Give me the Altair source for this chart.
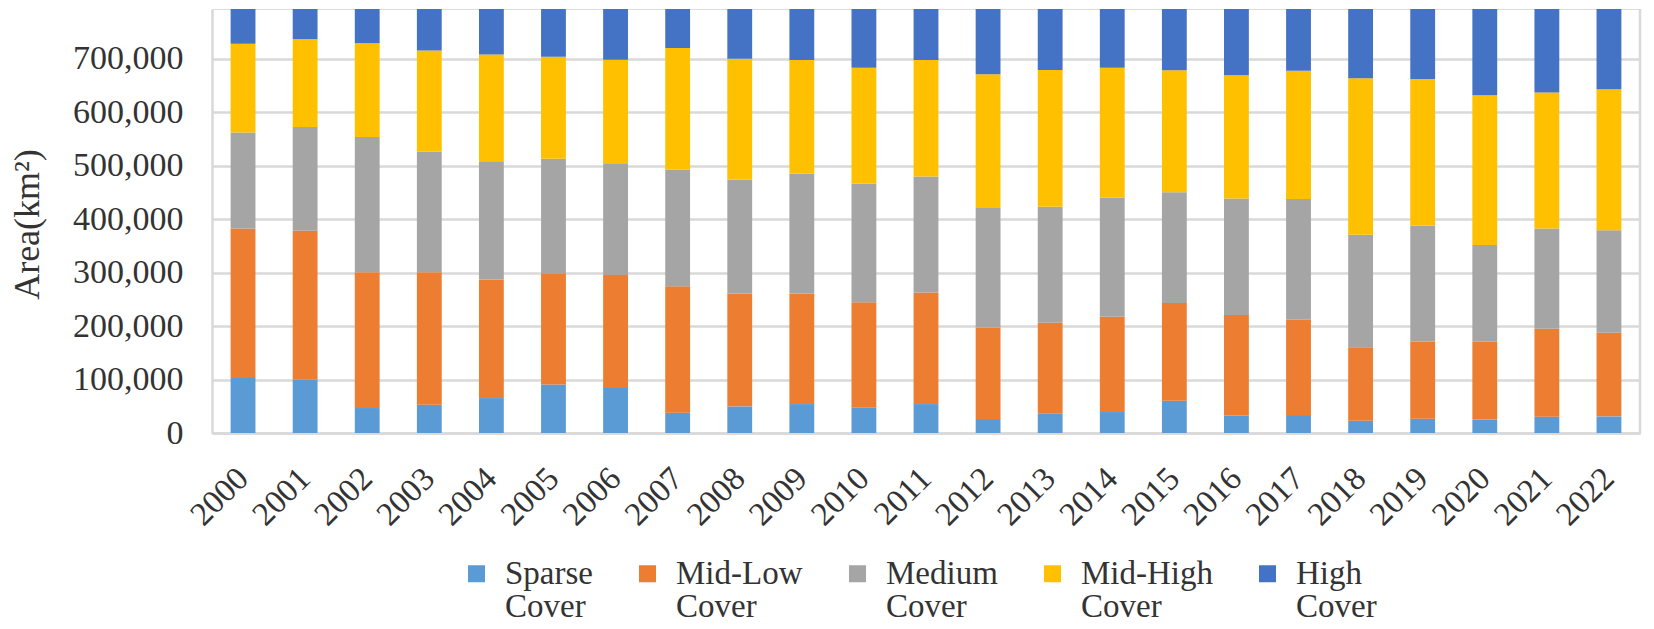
import altair as alt
import pandas as pd

years = [str(y) for y in range(2000, 2023)]
categories = ["Sparse Cover", "Mid-Low Cover", "Medium Cover", "Mid-High Cover", "High Cover"]

sparse   = [102700, 99600, 46700, 52900, 65300, 90900, 84000, 38000, 49800, 54100, 47900, 54100,
            26100, 36700, 39200, 60400, 33000, 33600, 23000, 26800, 25500, 30500, 31100]
mid_low  = [280000, 278700, 253900, 247700, 221600, 207800, 211600, 236400, 210900, 206600, 196700, 208500,
            171200, 169300, 178000, 182900, 187900, 178000, 137500, 143700, 145000, 164300, 156200]
medium   = [179200, 194200, 253200, 225200, 221500, 214100, 209100, 218400, 212900, 224700, 221500, 217200,
            223400, 217100, 223400, 207200, 217800, 225900, 210400, 217800, 181100, 187900, 191700]
mid_high = [166100, 164300, 175500, 189800, 199700, 191000, 193500, 227200, 226500, 212200, 217200, 217800,
            250100, 255800, 242700, 227800, 230200, 240200, 292400, 273800, 280000, 253900, 263800]
high     = [65000, 56200, 63700, 77400, 84900, 89200, 94800, 73000, 92900, 95400, 109700, 95400,
            122200, 114100, 109700, 114700, 124100, 115300, 129700, 130900, 161400, 156400, 150200]

y_ticks = [0, 100000, 200000, 300000, 400000, 500000, 600000, 700000]
colors = ["#5B9BD5", "#ED7D31", "#A5A5A5", "#FFC000", "#4472C4"]

series = [sparse, mid_low, medium, mid_high, high]
rows = []
for i, (cat, vals) in enumerate(zip(categories, series)):
    for yr, v in zip(years, vals):
        rows.append({"Year": yr, "Class": cat, "idx": i, "Area": v})
df = pd.DataFrame(rows)

FONT = "Liberation Serif"
TXT = "#333333"
GRID = "#d9d9d9"
W, H = 1428, 424

bars = alt.Chart(df).mark_bar().encode(
    x=alt.X("Year:N", sort=years,
            scale=alt.Scale(paddingInner=0.6, paddingOuter=0.3),
            axis=alt.Axis(title=None, labelAngle=-45, labelAlign="right", labelBaseline="middle",
                          labelFont=FONT, labelFontSize=33, labelColor=TXT, labelPadding=40,
                          ticks=False, domainColor=GRID, domainWidth=2.5)),
    y=alt.Y("Area:Q", stack="zero",
            scale=alt.Scale(domain=[0, 793000], nice=False),
            axis=alt.Axis(values=y_ticks, format=",d", title="Area(km²)",
                          labelFont=FONT, labelFontSize=34, labelColor=TXT, labelPadding=29,
                          titleFont=FONT, titleFontSize=36, titleFontWeight="normal", titleColor=TXT,
                          titleX=-185, titleY=215, titleAlign="center", titleBaseline="middle",
                          ticks=False, grid=True, gridColor=GRID, gridWidth=2.5,
                          domainColor=GRID, domainWidth=2.5)),
    color=alt.Color("Class:N",
                    scale=alt.Scale(domain=categories, range=colors),
                    legend=alt.Legend(title=None, orient="none", legendX=248, legendY=548,
                                      direction="horizontal", symbolType="square", symbolSize=289,
                                      symbolStrokeWidth=0, labelFont=FONT, labelFontSize=33,
                                      labelColor=TXT, labelOffset=12, columnPadding=38,
                                      labelLimit=0, labelExpr="split(datum.label, ' ')")),
    order=alt.Order("idx:Q", sort="ascending"),
)

right_line = alt.Chart(pd.DataFrame({"a": [0]})).mark_rule(color=GRID, strokeWidth=2.5).encode(
    x=alt.value(W), y=alt.value(0), y2=alt.value(H)
)

chart = alt.layer(bars, right_line).properties(
    width=W, height=H,
    padding={"left": 204, "top": 1, "right": 6, "bottom": 196},
    autosize=alt.AutoSizeParams(type="none"),
).configure_view(stroke=None).configure(
    background="white",
    style={"guide-label": {"lineHeight": 33}},
)

chart.save("out.html", embed_options={"renderer": "svg", "actions": False})
